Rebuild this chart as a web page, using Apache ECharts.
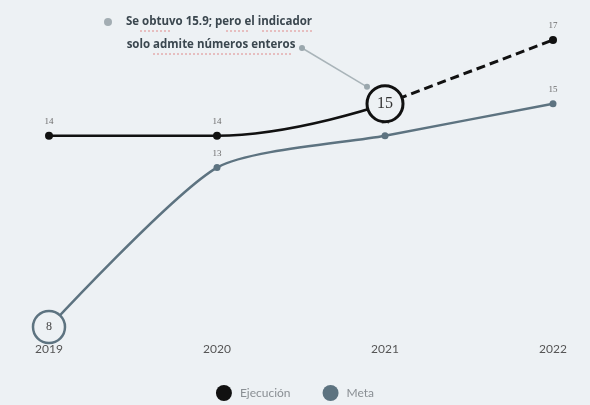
<!DOCTYPE html>
<html>
<head>
<meta charset="utf-8">
<script src="https://cdn.jsdelivr.net/npm/echarts@6/dist/echarts.min.js"></script>
<style>
  html, body { margin: 0; padding: 0; background: #edf1f4; }
  #chart { width: 590px; height: 405px; }
</style>
</head>
<body>
<div id="chart"></div>
<script>
// Years on the horizontal axis
const years = ['2019', '2020', '2021', '2022'];
// Executed values (last step is the projection, drawn dashed)
const ejecucion = [14, 14, 15, 17];
// Target values
const meta = [8, 13, 14, 15];
// Note attached to the 2021 execution value
const noteLines = ['Se obtuvo 15.9; pero el indicador', 'solo admite números enteros'];

const BG = '#edf1f4';
const BLACK = '#111111';
const SLATE = '#5d7380';
const NUM_FONT = 'Liberation Serif';

const chart = echarts.init(document.getElementById('chart'));

const smallLabel = {
  show: true, position: 'top', distance: 6,
  color: '#6b6b6b', fontSize: 9, fontFamily: NUM_FONT
};

// Solid part of the execution line: 2019–2021
const ejecSolid = ejecucion.map((v, i) => {
  if (i > 2) return null;
  if (i === 2) {
    return {
      value: v, symbolSize: 36,
      itemStyle: { color: BG, borderColor: BLACK, borderWidth: 3 },
      label: { show: true, position: 'inside', color: '#333', fontSize: 16, fontFamily: NUM_FONT }
    };
  }
  return v;
});
// Dashed projection: 2021–2022
const ejecDashed = ejecucion.map((v, i) => (i >= 2 ? (i === 2 ? { value: v, symbolSize: 0, label: { show: false } } : v) : null));

const metaData = meta.map((v, i) => {
  if (i === 0) {
    return {
      value: v, symbolSize: 32,
      itemStyle: { color: BG, borderColor: SLATE, borderWidth: 2.5 },
      label: { show: true, position: 'inside', color: '#444', fontSize: 12, fontFamily: NUM_FONT }
    };
  }
  return v;
});

chart.setOption({
  backgroundColor: BG,
  animation: false,
  grid: { left: 49, right: 37, top: 40, bottom: 78 },
  xAxis: {
    type: 'category', data: years, boundaryGap: false,
    axisLine: { show: false }, axisTick: { show: false }, splitLine: { show: false },
    axisLabel: { color: '#555', fontSize: 12, margin: 16, fontFamily: 'Lato' }
  },
  yAxis: { type: 'value', min: 8, max: 17, show: false, splitLine: { show: false } },
  legend: {
    top: 380, left: 'center', icon: 'circle', itemWidth: 16, itemHeight: 16, itemGap: 32,
    data: ['Ejecución', 'Meta'],
    textStyle: { color: '#8a8f94', fontSize: 12, fontFamily: 'Lato', padding: [0, 0, 0, 3] }
  },
  series: [
    {
      name: 'Meta', type: 'line', data: metaData, smooth: 0.22, z: 2,
      color: SLATE, symbol: 'circle', symbolSize: 7,
      lineStyle: { color: SLATE, width: 2.5 },
      itemStyle: { color: SLATE },
      label: smallLabel
    },
    {
      name: 'Ejecución', type: 'line', data: ejecDashed, z: 3,
      color: BLACK, symbol: 'circle', symbolSize: 8,
      lineStyle: { color: BLACK, width: 3, type: [9, 5] },
      itemStyle: { color: BLACK },
      label: smallLabel
    },
    {
      name: 'Ejecución', type: 'line', data: ejecSolid, smooth: 0.45, z: 4,
      color: BLACK, symbol: 'circle', symbolSize: 8,
      lineStyle: { color: BLACK, width: 2.5 },
      itemStyle: { color: BLACK },
      label: smallLabel
    }
  ]
});

// Callout: text block with a connector pointing at the 2021 execution circle
const target = chart.convertToPixel({ seriesIndex: 2 }, ['2021', ejecucion[2]]);
const endX = target[0] - 18, endY = target[1] - 17;
const startX = 302, startY = 48;
const noteFont = 'bold 11.5px "Open Sans"';

chart.setOption({
  graphic: [
    { type: 'circle', shape: { cx: 108, cy: 22, r: 4 }, style: { fill: '#a3adb3' }, z: 10 },
    {
      type: 'text', x: 219, y: 22, z: 10,
      style: { text: noteLines[0], fill: '#3b474f', font: noteFont, align: 'center', verticalAlign: 'middle' }
    },
    {
      type: 'text', x: 211, y: 45, z: 10,
      style: { text: noteLines[1], fill: '#3b474f', font: noteFont, align: 'center', verticalAlign: 'middle' }
    },
    // dotted red marks under the words
    { type: 'line', shape: { x1: 140, y1: 31, x2: 172, y2: 31 }, style: { stroke: '#e08a8a', lineWidth: 1, lineDash: [2, 2] }, z: 10 },
    { type: 'line', shape: { x1: 226, y1: 31, x2: 248, y2: 31 }, style: { stroke: '#e08a8a', lineWidth: 1, lineDash: [2, 2] }, z: 10 },
    { type: 'line', shape: { x1: 262, y1: 31, x2: 312, y2: 31 }, style: { stroke: '#e08a8a', lineWidth: 1, lineDash: [2, 2] }, z: 10 },
    { type: 'line', shape: { x1: 153, y1: 54, x2: 292, y2: 54 }, style: { stroke: '#e08a8a', lineWidth: 1, lineDash: [2, 2] }, z: 10 },
    { type: 'line', shape: { x1: startX, y1: startY, x2: endX, y2: endY }, style: { stroke: '#a9b4b9', lineWidth: 1.5 }, z: 10 },
    { type: 'circle', shape: { cx: startX, cy: startY, r: 3 }, style: { fill: '#9aa7ad' }, z: 10 },
    { type: 'circle', shape: { cx: endX, cy: endY, r: 3 }, style: { fill: '#9aa7ad' }, z: 10 }
  ]
});
</script>
</body>
</html>
